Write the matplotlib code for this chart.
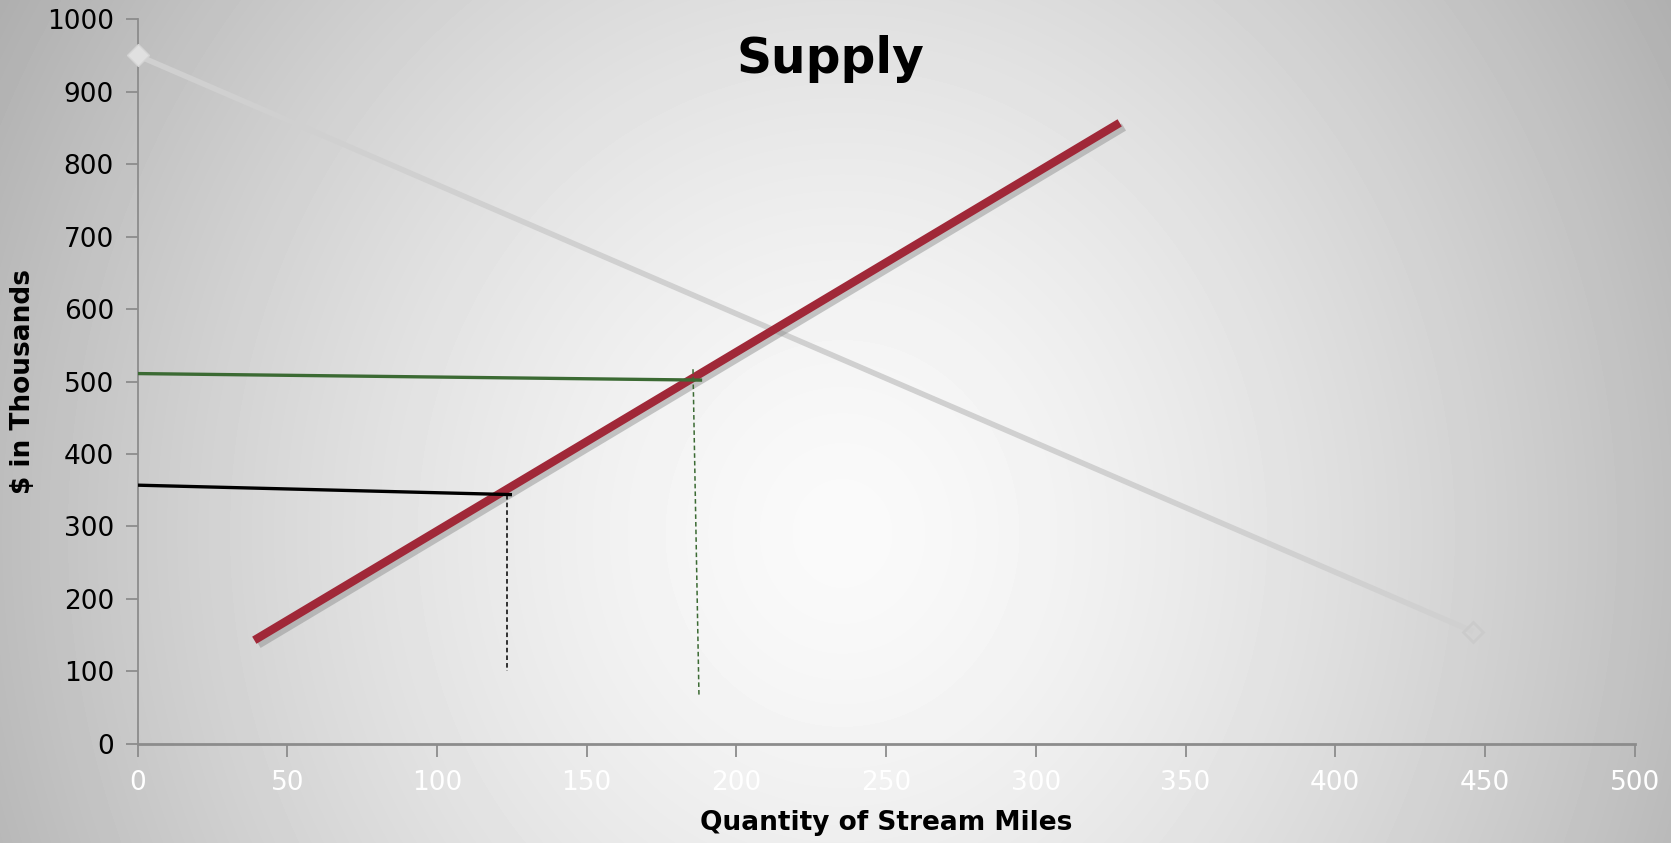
import numpy as np
import matplotlib
matplotlib.use("Agg")
import matplotlib.pyplot as plt
import matplotlib.patheffects as pe

# ---- data ----
demand_x = [0, 446]
demand_y = [950, 155]
supply_x = [39, 328]
supply_y = [143, 857]
green_h_x = [0, 188]
green_h_y = [511, 502]
green_v_x = [185.5, 187.5]
green_v_y = [517, 66]
black_h_x = [0, 124.5]
black_h_y = [357, 344]
black_v_x = [123.5, 123.5]
black_v_y = [344, 100]
x_ticks = [0, 50, 100, 150, 200, 250, 300, 350, 400, 450, 500]
y_ticks = [0, 100, 200, 300, 400, 500, 600, 700, 800, 900, 1000]

W, H = 1671, 843
fig = plt.figure(figsize=(W / 100, H / 100), dpi=100)

# radial gradient background
bg = fig.add_axes([0, 0, 1, 1], zorder=-10)
yy, xx = np.mgrid[0:H, 0:W]
cx, cy = 842, 533
r = np.sqrt(((xx - cx) / (W * 0.6)) ** 2 + ((yy - cy) / (H * 1.3)) ** 2)
val = 0.98 - 0.31 * np.clip(r, 0, 1.3) ** 1.5
bg.imshow(val, cmap="gray", vmin=0, vmax=1, aspect="auto", interpolation="bilinear")
bg.set_axis_off()

ax = fig.add_axes([0.0823, 0.1176, 0.8960, 0.8596])
ax.patch.set_alpha(0)
ax.set_xlim(0, 500)
ax.set_ylim(0, 1000)

# demand line
ax.plot(demand_x, demand_y, color="#d0d0d0", lw=4, solid_capstyle="butt", zorder=2)
ax.plot(demand_x[0], demand_y[0], marker="D", ms=11, color="#e0e0e0",
        mec="#d4d4d4", zorder=3, clip_on=False)
ax.plot(demand_x[1], demand_y[1], marker="D", ms=10, mfc="none",
        mec="#cbcbcb", mew=2, zorder=3)

# supply line with shadow
ax.plot(supply_x, supply_y, color="#a02838", lw=6, solid_capstyle="butt", zorder=4,
        path_effects=[pe.SimpleLineShadow(offset=(3, -3), shadow_color="#888888", alpha=0.45),
                      pe.Normal()])

# green guide lines
ax.plot(green_h_x, green_h_y, color="#3b6a33", lw=2.4, zorder=5)
ax.plot(green_v_x, green_v_y, color="#3b6a33", lw=1.1, ls=(0, (3, 2)), zorder=5)

# black guide lines
ax.plot(black_h_x, black_h_y, color="#000000", lw=2.4, zorder=5)
ax.plot(black_v_x, black_v_y, color="#000000", lw=1.1, ls=(0, (3, 2)), zorder=5)

# axes styling
for s in ["top", "right"]:
    ax.spines[s].set_visible(False)
ax.spines["left"].set_color("#8c8c8c")
ax.spines["left"].set_linewidth(1.3)
ax.spines["bottom"].set_color("#8c8c8c")
ax.spines["bottom"].set_linewidth(2)
ax.set_xticks(x_ticks)
ax.set_yticks(y_ticks)
ax.tick_params(axis="both", colors="#8c8c8c", length=9, width=1.3)
ax.tick_params(axis="y", labelcolor="#000000", labelsize=19, pad=8)
ax.tick_params(axis="x", labelcolor="#ffffff", labelsize=19, pad=10)

ax.set_xlabel("Quantity of Stream Miles", fontsize=19, fontweight="bold", labelpad=10)
ax.set_ylabel("$ in Thousands", fontsize=19, fontweight="bold", labelpad=8)

fig.text(0.497, 0.93, "Supply", fontsize=35, fontweight="bold", ha="center", va="center")

fig.savefig("out.png", dpi=100)
